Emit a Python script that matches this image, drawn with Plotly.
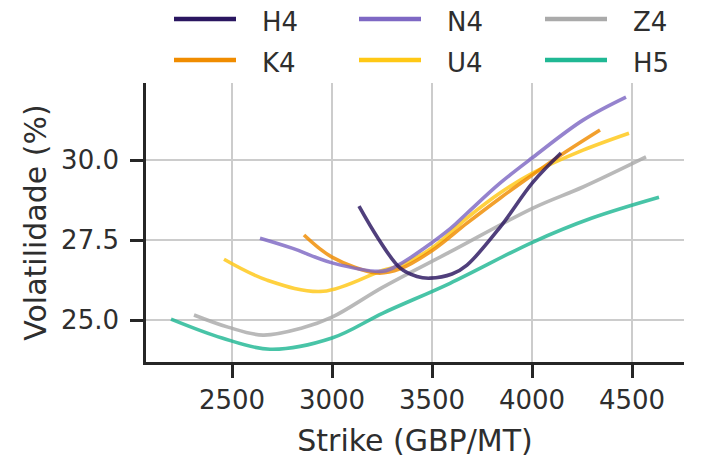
import plotly.graph_objects as go

# ---- data ----
series_names = ["H4", "N4", "Z4", "K4", "U4", "H5"]
series_colors = ["#2a1660", "#7e68c4", "#aaaaaa", "#f08c00", "#ffc815", "#20b894"]

H4_x = [3135, 3230, 3340, 3425, 3490, 3600, 3675, 3840, 4005, 4145]
H4_y = [28.56, 27.56, 26.63, 26.36, 26.31, 26.44, 26.72, 27.90, 29.31, 30.22]

N4_x = [2640, 2800, 3005, 3255, 3340, 3590, 3675, 3840, 4005, 4255, 4470]
N4_y = [27.56, 27.25, 26.78, 26.53, 26.75, 27.85, 28.34, 29.28, 30.09, 31.25, 31.97]

Z4_x = [2310, 2480, 2655, 2850, 3000, 3255, 3590, 4005, 4255, 4570]
Z4_y = [25.16, 24.78, 24.53, 24.75, 25.09, 26.03, 27.13, 28.50, 29.16, 30.10]

K4_x = [2860, 3000, 3225, 3340, 3505, 3675, 3840, 4005, 4145, 4340]
K4_y = [27.66, 26.97, 26.47, 26.60, 27.19, 28.03, 28.81, 29.55, 30.16, 30.94]

U4_x = [2460, 2675, 2955, 3255, 3340, 3505, 3675, 3840, 4005, 4255, 4485]
U4_y = [26.90, 26.25, 25.90, 26.56, 26.70, 27.28, 28.19, 28.97, 29.60, 30.31, 30.84]

H5_x = [2195, 2450, 2690, 3000, 3255, 3590, 4005, 4300, 4635]
H5_y = [25.03, 24.44, 24.09, 24.44, 25.22, 26.15, 27.44, 28.19, 28.84]

x_ticks = [2500, 3000, 3500, 4000, 4500]
y_ticks = [25.0, 27.5, 30.0]
x_title = "Strike (GBP/MT)"
y_title = "Volatilidade (%)"

data = {
    "H4": (H4_x, H4_y), "N4": (N4_x, N4_y), "Z4": (Z4_x, Z4_y),
    "K4": (K4_x, K4_y), "U4": (U4_x, U4_y), "H5": (H5_x, H5_y),
}

FONT = "DejaVu Sans"
TXT = "#2e2e2e"
AX = "#262626"

# figure geometry (pixels); the page body adds an 8px offset
W, H = 685, 456
L, R, T, B = 138, 9, 75, 102
PW, PH = W - L - R, H - T - B


def px_to_paper(px, py):
    return (px - L) / PW, (H - B - py) / PH


fig = go.Figure()
draw_order = ["H5", "Z4", "U4", "K4", "N4", "H4"]
for name in draw_order:
    i = series_names.index(name)
    x, y = data[name]
    fig.add_trace(go.Scatter(
        x=x, y=y, mode="lines", name=name, showlegend=False,
        line=dict(color=series_colors[i], width=3.6, shape="spline", smoothing=1.0),
        opacity=0.82, hoverinfo="skip",
    ))

# legend: 2 rows x 3 columns drawn with key lines and text
col_line_x = [166, 351, 537]
row_y = [11, 52]
line_len = 62
text_off = 86
text_dy = 3
shapes, annotations = [], []
for k, name in enumerate(series_names):
    r, c = divmod(k, 3)
    x0, y0 = px_to_paper(col_line_x[c], row_y[r])
    x1, _ = px_to_paper(col_line_x[c] + line_len, row_y[r])
    xt, yt = px_to_paper(col_line_x[c] + text_off, row_y[r] + text_dy)
    shapes.append(dict(type="line", xref="paper", yref="paper",
                       x0=x0, x1=x1, y0=y0, y1=y0,
                       line=dict(color=series_colors[k], width=4.5)))
    annotations.append(dict(text=name, xref="paper", yref="paper", x=xt, y=yt,
                            xanchor="left", yanchor="middle", showarrow=False,
                            font=dict(family=FONT, size=26, color=TXT)))

fig.update_layout(
    width=W, height=H,
    margin=dict(l=L, r=R, t=T, b=B, autoexpand=False),
    paper_bgcolor="white", plot_bgcolor="white",
    font=dict(family=FONT, size=26, color=TXT),
    showlegend=False,
    shapes=shapes, annotations=annotations,
    xaxis=dict(
        range=[2070, 4760], tickvals=x_ticks, ticktext=[str(v) for v in x_ticks],
        showgrid=True, gridcolor="#cccccc", gridwidth=2,
        showline=True, linecolor=AX, linewidth=2.6,
        ticks="outside", ticklen=13, tickwidth=2.6, tickcolor=AX,
        tickfont=dict(family=FONT, size=26, color=TXT),
        title=dict(text=x_title, font=dict(family=FONT, size=30, color=TXT), standoff=16),
        zeroline=False,
    ),
    yaxis=dict(
        range=[23.69, 32.41], tickvals=y_ticks, ticktext=[f"{v:.1f}" for v in y_ticks],
        showgrid=True, gridcolor="#cccccc", gridwidth=2,
        showline=True, linecolor=AX, linewidth=2.6,
        ticks="outside", ticklen=13, tickwidth=2.6, tickcolor=AX,
        ticklabelstandoff=6,
        tickfont=dict(family=FONT, size=26, color=TXT),
        title=dict(text=y_title, font=dict(family=FONT, size=30, color=TXT), standoff=6),
        zeroline=False,
    ),
)

fig.write_html("out.html")
